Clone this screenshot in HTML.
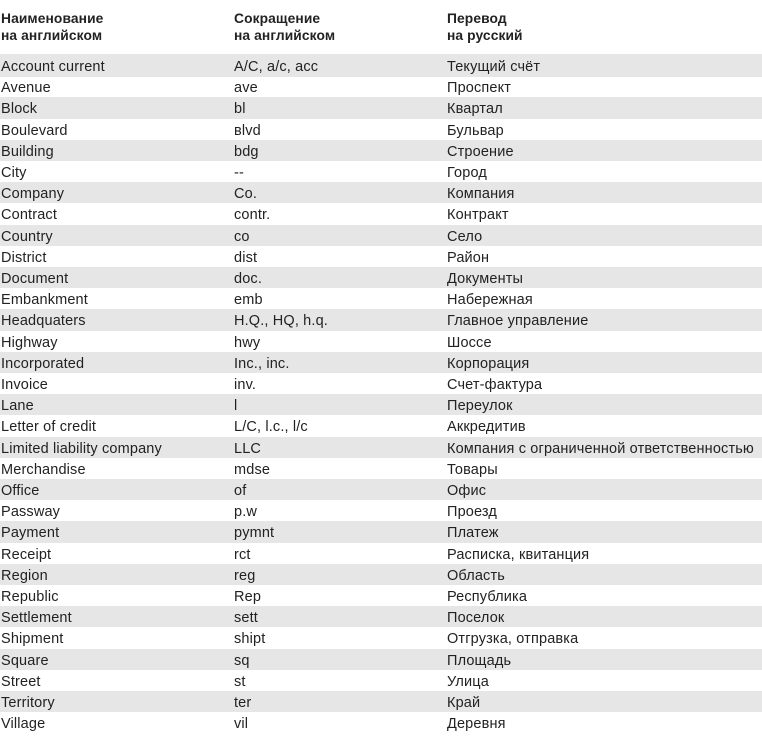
<!DOCTYPE html><html><head><meta charset="utf-8"><style>
body{margin:0;background:#fff;width:762px;height:730px;overflow:hidden;font-family:"Liberation Sans","DejaVu Sans",sans-serif;color:#222;font-size:14.5px;letter-spacing:0.15px}
.h{position:absolute;top:10px;font-weight:bold;line-height:17px;font-size:13.8px;letter-spacing:0.1px}
.r{position:absolute;left:0;width:762px;height:21.2px;line-height:25px}
.r.s{background:#e6e6e6}
.r span{position:absolute;white-space:nowrap}
.a{left:1px}.b{left:234px}.c{left:447px}
</style></head><body>
<div class="h" style="left:1px">Наименование<br>на английском</div>
<div class="h" style="left:234px">Сокращение<br>на английском</div>
<div class="h" style="left:447px">Перевод<br>на русский</div>
<div id="t"></div>
<script>
var d=[["Account current","A/C, a/c, acc","Текущий счёт"],["Avenue","ave","Проспект"],["Block","bl","Квартал"],["Boulevard","вlvd","Бульвар"],["Building","bdg","Строение"],["City","--","Город"],["Company","Co.","Компания"],["Contract","contr.","Контракт"],["Country","co","Село"],["District","dist","Район"],["Document","doc.","Документы"],["Embankment","emb","Набережная"],["Headquaters","H.Q., HQ, h.q.","Главное управление"],["Highway","hwy","Шоссе"],["Incorporated","Inc., inc.","Корпорация"],["Invoice","inv.","Счет-фактура"],["Lane","l","Переулок"],["Letter of credit","L/C, l.c., l/c","Аккредитив"],["Limited liability company","LLC","Компания с ограниченной ответственностью"],["Merchandise","mdse","Товары"],["Office","of","Офис"],["Passway","p.w","Проезд"],["Payment","pymnt","Платеж"],["Receipt","rct","Расписка, квитанция"],["Region","reg","Область"],["Republic","Rep","Республика"],["Settlement","sett","Поселок"],["Shipment","shipt","Отгрузка, отправка"],["Square","sq","Площадь"],["Street","st","Улица"],["Territory","ter","Край"],["Village","vil","Деревня"]];
var h="";d.forEach(function(r,i){h+='<div class="r'+(i%2==0?' s':'')+'" style="top:'+(55+i*21.2+(i==0?-1:0))+'px;'+(i==0?'height:23px;line-height:27px':'')+'"><span class="a">'+r[0]+'</span><span class="b">'+r[1]+'</span><span class="c">'+r[2]+'</span></div>'});
document.getElementById("t").innerHTML=h;
</script>
</body></html>
